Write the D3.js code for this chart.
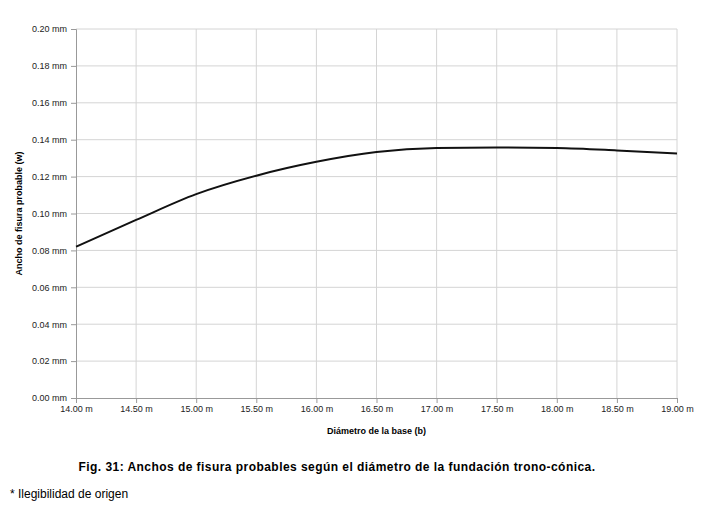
<!DOCTYPE html>
<html>
<head>
<meta charset="utf-8">
<script src="https://cdn.jsdelivr.net/npm/d3@7"></script>
<style>
  body { margin: 0; background: #fff; }
  svg text { font-family: "Liberation Sans", Arial, sans-serif; }
</style>
</head>
<body>
<div id="chart"></div>
<script>
// Diámetro de la base (m) vs ancho de fisura probable (mm)
const diameters = [14.0, 14.5, 15.0, 15.5, 16.0, 16.5, 17.0, 17.5, 18.0, 18.5, 19.0];
const widths = [0.082, 0.0965, 0.1105, 0.1205, 0.128, 0.1333, 0.1355, 0.1358, 0.1355, 0.1342, 0.1325];
const yTicks = [0, 0.02, 0.04, 0.06, 0.08, 0.10, 0.12, 0.14, 0.16, 0.18, 0.20];

const W = 706, H = 510;
const margin = { left: 76, right: 29, top: 29, bottom: 112 };

const svg = d3.select('#chart').append('svg')
    .attr('width', W)
    .attr('height', H);

const x = d3.scaleLinear().domain([14, 19]).range([margin.left, W - margin.right]);
const y = d3.scaleLinear().domain([0, 0.2]).range([H - margin.bottom, margin.top]);

// Grid
svg.append('g')
    .selectAll('line.h')
    .data(yTicks.slice(1))
    .enter().append('line')
    .attr('x1', x(14)).attr('x2', x(19))
    .attr('y1', d => y(d)).attr('y2', d => y(d))
    .attr('stroke', '#d4d4d4').attr('stroke-width', 1);

svg.append('g')
    .selectAll('line.v')
    .data(diameters.slice(1))
    .enter().append('line')
    .attr('x1', d => x(d)).attr('x2', d => x(d))
    .attr('y1', y(0)).attr('y2', y(0.2))
    .attr('stroke', '#d4d4d4').attr('stroke-width', 1);

// Axes
const yAxis = svg.append('g')
    .attr('transform', `translate(${x(14)},0)`)
    .call(d3.axisLeft(y).tickValues(yTicks).tickSize(5).tickPadding(4)
        .tickFormat(d => d3.format('.2f')(d) + ' mm'));

const xAxis = svg.append('g')
    .attr('transform', `translate(0,${y(0)})`)
    .call(d3.axisBottom(x).tickValues(diameters).tickSize(5).tickPadding(3)
        .tickFormat(d => d3.format('.2f')(d) + ' m'));

[yAxis, xAxis].forEach(a => {
    a.select('.domain').attr('stroke', '#999');
    a.selectAll('.tick line').attr('stroke', '#999');
    a.selectAll('.tick text').attr('fill', '#222').style('font-size', '9px');
});

// Line
const line = d3.line()
    .x((d, i) => x(diameters[i]))
    .y(d => y(d))
    .curve(d3.curveMonotoneX);

svg.append('path')
    .datum(widths)
    .attr('d', line)
    .attr('fill', 'none')
    .attr('stroke', '#111')
    .attr('stroke-width', 2);

// Axis titles
svg.append('text')
    .attr('x', (x(14) + x(19)) / 2)
    .attr('y', 434)
    .attr('text-anchor', 'middle')
    .style('font-size', '9px')
    .style('font-weight', 'bold')
    .text('Diámetro de la base (b)');

svg.append('text')
    .attr('transform', `translate(22,${(y(0) + y(0.2)) / 2}) rotate(-90)`)
    .attr('text-anchor', 'middle')
    .style('font-size', '9px')
    .style('font-weight', 'bold')
    .text('Ancho de fisura probable (w)');

// Caption
svg.append('text')
    .attr('x', 337)
    .attr('y', 471)
    .attr('text-anchor', 'middle')
    .style('font-size', '12px')
    .style('font-weight', 'bold')
    .style('letter-spacing', '0.45px')
    .text('Fig. 31: Anchos de fisura probables según el diámetro de la fundación trono-cónica.');

svg.append('text')
    .attr('x', 10)
    .attr('y', 498)
    .style('font-size', '12px')
    .text('* Ilegibilidad de origen');
</script>
</body>
</html>
